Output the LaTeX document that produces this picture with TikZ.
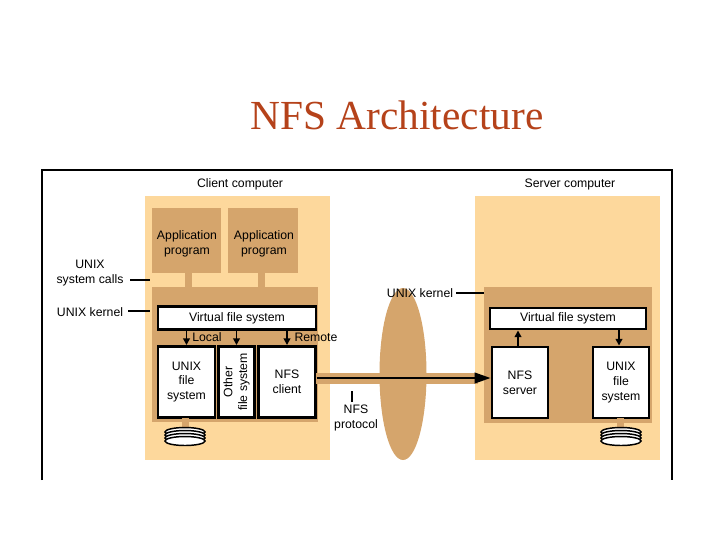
\documentclass[tikz,border=0pt]{standalone}
\usepackage{fontspec}
\setmainfont{Liberation Sans}
\newfontfamily\titlefont{Liberation Serif}
\usetikzlibrary{arrows.meta,shapes.geometric}
\definecolor{lighttan}{HTML}{FDD89C}
\definecolor{darktan}{HTML}{D5A56C}
\definecolor{titlered}{HTML}{B5421A}
\begin{document}
\begin{tikzpicture}[x=0.75pt,y=-0.75pt,
  lbl/.style={font=\fontsize{9.2}{11}\selectfont,align=center,inner sep=0pt},
  wbox/.style={draw=black,line width=2.2pt,fill=white,lbl},
  arr/.style={-{Triangle[length=5pt,width=5pt]},line width=1.4pt},
  leader/.style={line width=1.6pt},
  disk/.style={draw=black,fill=white,line width=1.1pt}]
\useasboundingbox (0,0) rectangle (720,540);
% frame
\draw[line width=0.8pt] (42,480) -- (42,170) -- (672,170) -- (672,480);
\node[font=\titlefont\fontsize{31}{34}\selectfont,text=titlered] (title) at (397,115) {NFS Architecture};
% client
\node[lbl] (clabel) at (240,184) {Client computer};
\fill[lighttan] (145,196) rectangle (330,460);
\fill[darktan] (185,272) rectangle (192,288);
\fill[darktan] (258,272) rectangle (265,288);
\fill[darktan] (152,208) rectangle (221,273);
\fill[darktan] (228,208) rectangle (298,273);
\node[lbl] (a1) at (187,244) {Application\\program};
\node[lbl] (a2) at (264,244) {Application\\program};
\fill[darktan] (152,287) rectangle (318,422);
\node[wbox,minimum width=158*0.75pt,minimum height=23*0.75pt] (cvfs) at (237,318) {Virtual file system};
\node[wbox,minimum width=57*0.75pt,minimum height=71*0.75pt] (cufs) at (186.5,382) {UNIX\\file\\system};
\node[wbox,minimum width=36*0.75pt,minimum height=71*0.75pt] (other) at (236.5,382) {};
\node[lbl,rotate=90] (otherl) at (236.5,382) {Other\\file system};
\node[wbox,minimum width=57*0.75pt,minimum height=71*0.75pt] (nfsc) at (287,382) {NFS\\client};
\draw[arr] (cvfs.south -| cufs) -- (cufs.north);
\draw[arr] (cvfs.south -| other) -- (other.north);
\draw[arr] (cvfs.south -| nfsc) -- (nfsc.north);
\node[lbl] (local) at (207,337) {Local};
\node[lbl] (remote) at (316,337) {Remote};
\fill[darktan] (182,418) rectangle (189,434);
\foreach \dy in {0,3,6,9}{\draw[disk] (185,432+\dy) ellipse (20 and 4.5);}
% left labels
\node[lbl] (syscalls) at (90,273) {UNIX\\system calls};
\coordinate (sc) at (150,280);
\draw[leader] (130,280) -- (sc);
\node[lbl] (ck) at (90,312) {UNIX kernel};
\coordinate (ckp) at (150,311);
\draw[leader] (128,311) -- (ckp);
% server
\node[lbl] (slabel) at (570,184) {Server computer};
\fill[lighttan] (475,196) rectangle (660,460);
\fill[darktan] (484,287) rectangle (652,423);
\node[wbox,minimum width=156*0.75pt,minimum height=21*0.75pt] (svfs) at (568,318.5) {Virtual file system};
\node[wbox,minimum width=56*0.75pt,minimum height=71*0.75pt] (nfss) at (520,382.5) {NFS\\server};
\node[wbox,minimum width=56*0.75pt,minimum height=71*0.75pt] (sufs) at (621,382.5) {UNIX\\file\\system};
\draw[arr] (nfss.north -| 518,0) -- (svfs.south -| 518,0);
\draw[arr] (svfs.south -| 619,0) -- (sufs.north -| 619,0);
\fill[darktan] (617,418) rectangle (624,434);
\foreach \dy in {0,3,6,9}{\draw[disk] (621,432+\dy) ellipse (20 and 4.5);}
% network
\node[ellipse,fill=darktan,minimum width=47*0.75pt,minimum height=172*0.75pt,inner sep=0pt] (net) at (403,374) {};
\fill[darktan] (316,373) rectangle (478,384);
\draw[line width=1.5pt,-{Triangle[length=12pt,width=8pt]}] (nfsc.east |- 0,378) -- (nfss.west |- 0,378);
\draw[leader] (352,391) -- (352,402);
\node[lbl] (proto) at (356,418) {NFS\\protocol};
\node[lbl] (sk) at (420,293) {UNIX kernel};
\draw[leader] (456,293) -- (484,293);
\end{tikzpicture}
\end{document}
